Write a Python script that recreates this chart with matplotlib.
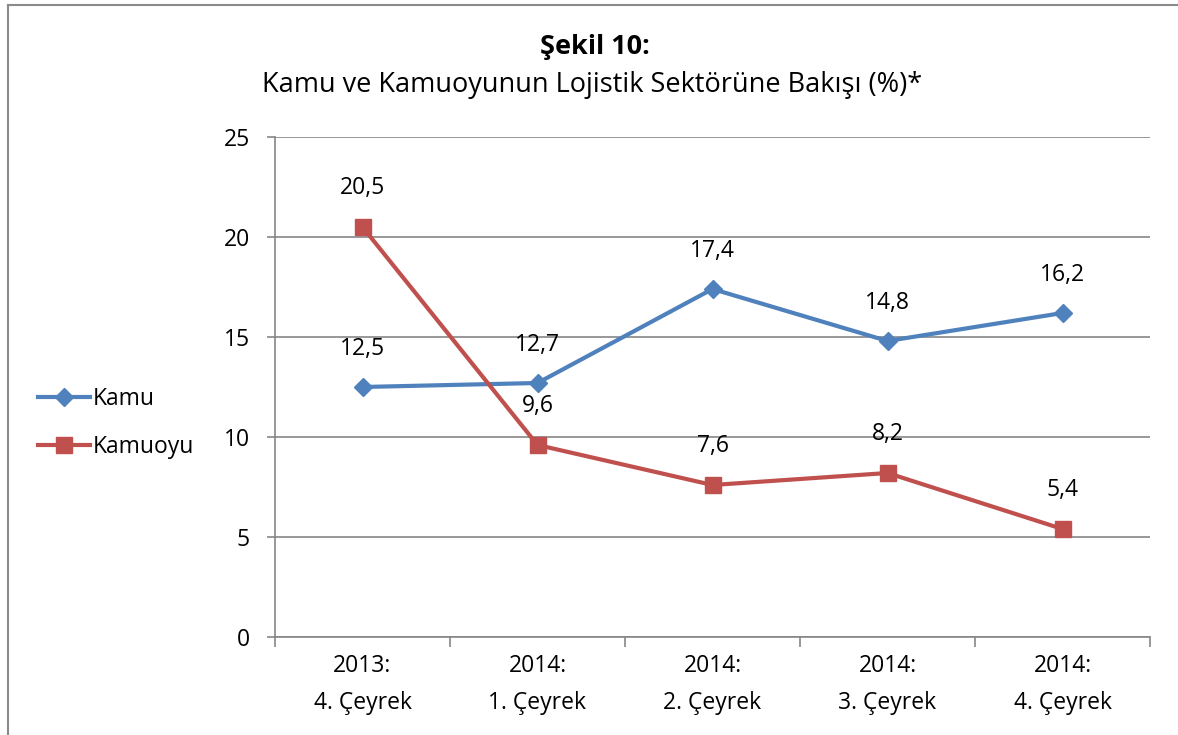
import matplotlib
matplotlib.use("Agg")
import matplotlib.pyplot as plt
from matplotlib.lines import Line2D

categories = ["2013:\n4. Çeyrek", "2014:\n1. Çeyrek", "2014:\n2. Çeyrek", "2014:\n3. Çeyrek", "2014:\n4. Çeyrek"]
kamu = [12.5, 12.7, 17.4, 14.8, 16.2]
kamuoyu = [20.5, 9.6, 7.6, 8.2, 5.4]
yticks = [0, 5, 10, 15, 20, 25]

plt.rcParams['font.family'] = ['Open Sans', 'DejaVu Sans']
W, H = 1178, 735
fig = plt.figure(figsize=(W/100, H/100), dpi=100)
ax = fig.add_axes([275/W, 1-637/H, 875/W, 500/H])

blue = '#4F81BD'
red = '#C0504D'
grid = '#868686'
fs = 16.5

x = list(range(len(categories)))
ax.plot(x, kamu, color=blue, lw=3, marker='D', ms=9, zorder=3)
ax.plot(x, kamuoyu, color=red, lw=3, marker='s', ms=11, zorder=3)

for xi, v in zip(x, kamu):
    ax.annotate(f"{v:.1f}".replace('.', ','), (xi, v), xytext=(0, 27), textcoords='offset points',
                ha='center', va='center', fontsize=fs)
for xi, v in zip(x, kamuoyu):
    ax.annotate(f"{v:.1f}".replace('.', ','), (xi, v), xytext=(0, 28), textcoords='offset points',
                ha='center', va='center', fontsize=fs)

ax.set_xlim(-0.5, len(categories) - 0.5)
ax.set_ylim(0, 25)
ax.set_yticks(yticks)
ax.set_yticklabels([str(t) for t in yticks], fontsize=fs)
ax.yaxis.grid(True, color=grid, lw=1.2)
ax.set_axisbelow(True)
for s in ['top', 'right']:
    ax.spines[s].set_visible(False)
for s in ['left', 'bottom']:
    ax.spines[s].set_color(grid)
    ax.spines[s].set_linewidth(1.2)
ax.tick_params(axis='y', length=6, color=grid, width=1.2, pad=12)
ax.set_xticks([i - 0.5 for i in range(len(categories) + 1)], minor=False)
ax.set_xticklabels([])
ax.tick_params(axis='x', length=7, color=grid, width=1.2)
ax.set_xticks(x, minor=True)
ax.set_xticklabels(categories, minor=True, fontsize=fs, linespacing=1.75)
ax.tick_params(axis='x', which='minor', length=0, pad=12)

fig.text(595/W, 1-47/H, "Şekil 10:", ha='center', va='center', fontsize=19.5, fontweight='bold')
fig.text(592/W, 1-85/H, "Kamu ve Kamuoyunun Lojistik Sektörüne Bakışı (%)*", ha='center', va='center', fontsize=19.5)

handles = [Line2D([], [], color=blue, lw=3, marker='D', ms=9),
           Line2D([], [], color=red, lw=3, marker='s', ms=11)]
fig.legend(handles, ["Kamu", "Kamuoyu"], loc='center left', bbox_to_anchor=(17/W, 1-423/H),
           frameon=False, fontsize=fs, handlelength=2.3, handletextpad=0.1, labelspacing=1.05)

fig.add_artist(Line2D([8/W, 8/W], [0, 1-5/H], color='#8a8a8a', lw=1.5, transform=fig.transFigure))
fig.add_artist(Line2D([8/W, 1], [1-5/H, 1-5/H], color='#8a8a8a', lw=1.5, transform=fig.transFigure))

fig.savefig("out.png", dpi=100)
